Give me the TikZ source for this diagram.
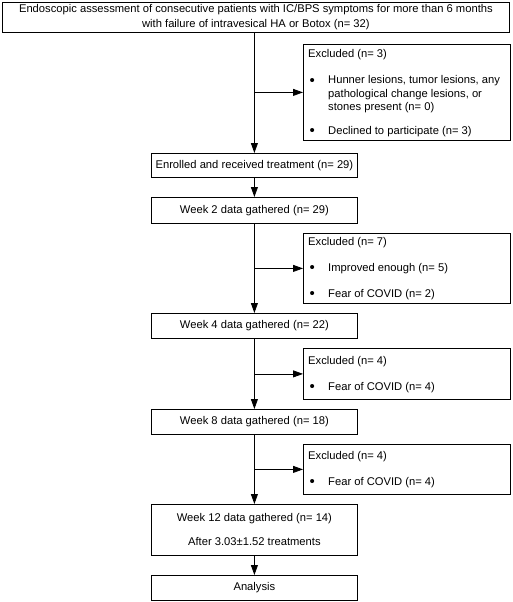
\documentclass[tikz,border=0pt]{standalone}
\usepackage{fontspec}
\setmainfont{Liberation Sans}
\usetikzlibrary{arrows.meta}
\begin{document}
\begin{tikzpicture}[x=1pt,y=-1pt,
  box/.style={draw=black, line width=0.8pt, anchor=north west, inner sep=0pt, align=center, minimum width=206pt, minimum height=25pt, font=\fontsize{11.2}{15}\selectfont},
  exbox/.style={draw=black, line width=0.8pt, anchor=north west, inner sep=0pt, minimum width=207pt},
  txt/.style={anchor=base west, inner sep=0pt, font=\fontsize{11.2}{13}\selectfont},
  bul/.style={anchor=base west, inner sep=0pt, font=\fontsize{15}{15}\selectfont},
  arr/.style={line width=0.8pt, -{Triangle[length=10pt,width=7pt]}}]
\useasboundingbox (0,0) rectangle (512,602);
% main column
\node[box, minimum width=507pt, minimum height=30pt] (top) at (2,2) {Endoscopic assessment of consecutive patients with IC/BPS symptoms for more than 6 months\\with failure of intravesical HA or Botox (n= 32)};
\node[box, minimum height=24pt] (enr) at (151,153) {Enrolled and received treatment (n= 29)};
\node[box, minimum height=26pt] (w2) at (151,197) {Week 2 data gathered (n= 29)};
\node[box] (w4) at (151,313) {Week 4 data gathered (n= 22)};
\node[box] (w8) at (151,409) {Week 8 data gathered (n= 18)};
\node[box, minimum height=51pt, font=\fontsize{11.2}{24}\selectfont] (w12) at (151,504) {Week 12 data gathered (n= 14)\\After 3.03±1.52 treatments};
\node[box] (ana) at (151,575) {Analysis};
% excluded boxes
\node[exbox, minimum height=96pt] (e1) at (303,44) {};
\node[exbox, minimum height=70pt] (e2) at (303,233) {};
\node[exbox, minimum height=51pt] (e3) at (303,348) {};
\node[exbox, minimum height=50pt] (e4) at (303,444) {};
% excluded texts
\node[txt] (e1t) at (308,57) {Excluded (n= 3)};
\node[bul] (e1b1) at (309.5,85) {\textbullet};
\node[txt] (e1a) at (328,84) {Hunner lesions, tumor lesions, any};
\node[txt] (e1b) at (328,97) {pathological change lesions, or};
\node[txt] (e1c) at (328,110) {stones present (n= 0)};
\node[bul] (e1b2) at (309.5,135) {\textbullet};
\node[txt] (e1d) at (328,134) {Declined to participate (n= 3)};
\node[txt] (e2t) at (308,245) {Excluded (n= 7)};
\node[bul] (e2b1) at (309.5,272) {\textbullet};
\node[txt] (e2a) at (328,271) {Improved enough (n= 5)};
\node[bul] (e2b2) at (309.5,298) {\textbullet};
\node[txt] (e2b) at (328,297) {Fear of COVID (n= 2)};
\node[txt] (e3t) at (308,364) {Excluded (n= 4)};
\node[bul] (e3b1) at (309.5,391) {\textbullet};
\node[txt] (e3a) at (328,390) {Fear of COVID (n= 4)};
\node[txt] (e4t) at (308,459) {Excluded (n= 4)};
\node[bul] (e4b1) at (309.5,486) {\textbullet};
\node[txt] (e4a) at (328,485) {Fear of COVID (n= 4)};
% connectors
\draw[arr] (enr.north |- top.south) -- (enr.north);
\draw[arr] (enr.south) -- (w2.north);
\draw[arr] (w2.south) -- (w4.north);
\draw[arr] (w4.south) -- (w8.north);
\draw[arr] (w8.south) -- (w12.north);
\draw[arr] (w12.south) -- (ana.north);
\draw[arr] (enr.north |- e1.west) -- (e1.west);
\draw[arr] (w2.south |- e2.west) -- (e2.west);
\draw[arr] (w4.south |- e3.west) -- (e3.west);
\draw[arr] (w8.south |- e4.west) -- (e4.west);
\end{tikzpicture}
\end{document}
